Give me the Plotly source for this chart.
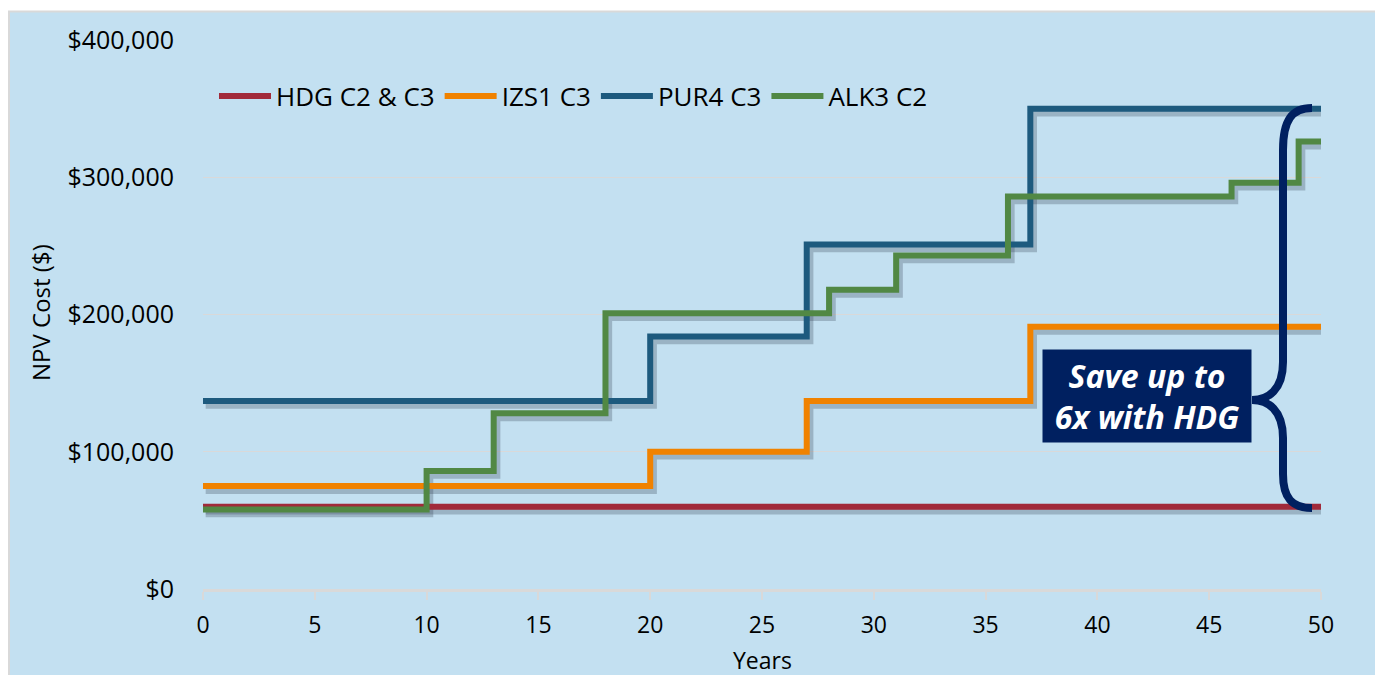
import numpy as np
import plotly.graph_objects as go

# ---- data ----
years_hdg = [0, 50]
npv_hdg = [60000, 60000]

years_izs = [0, 20, 27, 37, 50]
npv_izs = [75000, 100000, 137000, 191000, 191000]

years_pur = [0, 20, 27, 37, 50]
npv_pur = [137000, 184000, 251000, 350000, 350000]

years_alk = [0, 10, 13, 18, 28, 31, 36, 46, 49, 50]
npv_alk = [58000, 86000, 128000, 201000, 218000, 243000, 286000, 296000, 326000, 326000]

series_names = ["HDG C2 & C3", "IZS1 C3", "PUR4 C3", "ALK3 C2"]
series_colors = ["#A12A3A", "#F08200", "#1D5A7E", "#518844"]
x_ticks = list(range(0, 51, 5))
y_ticks = [0, 100000, 200000, 300000, 400000]
y_ticktext = ["$" + format(v, ",") for v in y_ticks]
callout_text = "Save up to<br>6x with HDG"

BG = "#C3E0F1"
NAVY = "#002060"
GRID = "#D9D9D9"
FONT = "Open Sans"

series = [
    (years_hdg, npv_hdg),
    (years_izs, npv_izs),
    (years_pur, npv_pur),
    (years_alk, npv_alk),
]

fig = go.Figure()

# soft drop shadows (same data, small visual offset)
for (xs, ys) in series:
    fig.add_trace(go.Scatter(
        x=np.array(xs, dtype=float) + 0.12, y=np.array(ys, dtype=float) - 2800,
        mode="lines", line=dict(color="rgba(40,50,70,0.26)", width=8, shape="hv"),
        showlegend=False, hoverinfo="skip"))

for (xs, ys), name, col in zip(series, series_names, series_colors):
    fig.add_trace(go.Scatter(
        x=xs, y=ys, mode="lines", name=name,
        line=dict(color=col, width=6, shape="hv")))

# The page body has an 8px margin, so the figure starts at page pixel (8, 8).
OFF = 8
PAGE_W, PAGE_H = 1383, 675
W, H = PAGE_W - OFF, PAGE_H - OFF
PL, PR, PT, PB = 203, 1321, 40, 589          # plot area in page pixels
L, R, T, B = PL - OFF, PAGE_W - PR, PT - OFF, PAGE_H - PB
pw, ph = PR - PL, PB - PT


def px_x(p):
    return (p - PL) / pw


def px_y(p):
    return (PB - p) / ph


def dx(p):
    return (p - PL) / pw * 50


def dy(p):
    return (PB - p) / ph * 400000


# curly brace in data coordinates
xe, xv, xt = dx(1312), dx(1283), dx(1252)
brace = (
    f"M {xe},{dy(108)} "
    f"C {dx(1292)},{dy(108)} {xv},{dy(120)} {xv},{dy(150)} "
    f"L {xv},{dy(362)} "
    f"C {xv},{dy(390)} {dx(1268)},{dy(400)} {xt},{dy(400)} "
    f"C {dx(1268)},{dy(400)} {xv},{dy(410)} {xv},{dy(438)} "
    f"L {xv},{dy(474)} "
    f"C {xv},{dy(498)} {dx(1292)},{dy(508)} {xe},{dy(508)}"
)

shapes = [
    # thin top white strip + light grey frame lines
    dict(type="rect", xref="paper", yref="paper", x0=-0.3, x1=1.3, y0=px_y(11), y1=1.3,
         fillcolor="white", line=dict(width=0), layer="below"),
    dict(type="line", xref="paper", yref="paper", x0=px_x(9), x1=px_x(9), y0=-0.3, y1=px_y(11),
         line=dict(color=GRID, width=2), layer="below"),
    dict(type="line", xref="paper", yref="paper", x0=px_x(8), x1=1.3, y0=px_y(11.5), y1=px_y(11.5),
         line=dict(color=GRID, width=2), layer="below"),
    dict(type="path", xref="x", yref="y", path=brace,
         line=dict(color=NAVY, width=8), fillcolor="rgba(0,0,0,0)", layer="above"),
]

annotations = [
    dict(text=callout_text, xref="x", yref="y", x=dx(1147), y=dy(396), showarrow=False,
         font=dict(family=FONT, size=32, color="white", weight="bold", style="italic"),
         bgcolor=NAVY, width=202, height=86, borderpad=3, align="center", valign="middle"),
    dict(text="NPV Cost ($)", xref="paper", yref="paper", x=px_x(40), y=px_y(313),
         textangle=-90, showarrow=False, xanchor="center", yanchor="middle",
         font=dict(family=FONT, size=24, color="black")),
    dict(text="Years", xref="paper", yref="paper", x=0.5, y=px_y(660), showarrow=False,
         xanchor="center", yanchor="middle", font=dict(family=FONT, size=23, color="black")),
]

fig.update_layout(
    width=W, height=H,
    margin=dict(l=L, r=R, t=T, b=B),
    paper_bgcolor=BG, plot_bgcolor=BG,
    font=dict(family=FONT, size=24, color="black"),
    showlegend=True,
    legend=dict(orientation="h", x=px_x(214), y=px_y(96), xanchor="left", yanchor="middle",
                bgcolor="rgba(0,0,0,0)", font=dict(family=FONT, size=26, color="black"),
                itemwidth=52, tracegroupgap=0),
    shapes=shapes,
    annotations=annotations,
    xaxis=dict(range=[0, 50], tickvals=x_ticks, showgrid=False, zeroline=False,
               showline=True, linecolor=GRID, linewidth=3,
               ticks="outside", ticklen=8, tickwidth=2, tickcolor=GRID,
               ticklabelstandoff=5, tickfont=dict(family=FONT, size=23), fixedrange=True),
    yaxis=dict(range=[0, 400000], tickmode="array", tickvals=y_ticks, ticktext=y_ticktext,
               showgrid=True, gridcolor=GRID, gridwidth=1, zeroline=False, showline=False,
               ticks="", ticklabelstandoff=28, tickfont=dict(family=FONT, size=25),
               fixedrange=True),
)

fig.write_html("out.html")
